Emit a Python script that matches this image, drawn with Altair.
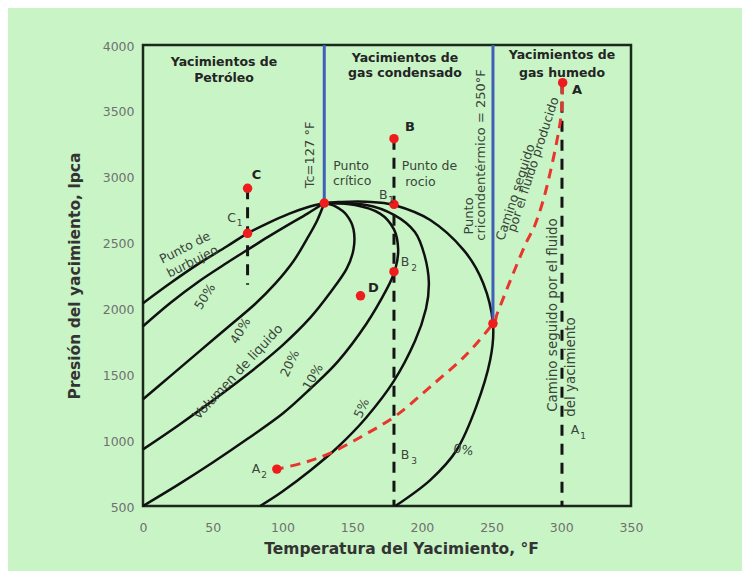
import altair as alt
import pandas as pd

BG = "#c9f5c6"

# ---------------- axis ticks ----------------
x_ticks = [0, 50, 100, 150, 200, 250, 300, 350]
y_ticks = [500, 1000, 1500, 2000, 2500, 3000, 3500, 4000]

# ---------------- envelope / quality lines (T °F, P lpca) ----------------
bubble_T = [0, 20, 40, 60, 75, 90, 105, 118, 130]
bubble_P = [2040, 2195, 2340, 2470, 2570, 2650, 2720, 2768, 2800]

l50_T = [0, 20, 40, 60, 75, 90, 105, 118, 130]
l50_P = [1865, 2045, 2205, 2345, 2445, 2545, 2640, 2720, 2800]

l40_T = [0, 20, 40, 60, 80, 95, 108, 118, 125, 130]
l40_P = [1310, 1490, 1670, 1850, 2030, 2190, 2360, 2535, 2670, 2800]

l20_T = [0, 25, 50, 75, 100, 120, 135, 146, 151, 151, 146, 138, 130]
l20_P = [930, 1110, 1300, 1500, 1720, 1930, 2130, 2300, 2450, 2600, 2710, 2775, 2800]

l10_T = [0, 25, 50, 75, 100, 120, 140, 160, 175, 181, 183, 180, 170, 152, 130]
l10_P = [500, 660, 830, 1010, 1200, 1390, 1600, 1880, 2150, 2300, 2450, 2600, 2720, 2785, 2800]

l5_T = [84, 100, 120, 140, 160, 180, 195, 203, 205, 202, 195, 180, 160, 130]
l5_P = [500, 610, 770, 950, 1170, 1450, 1750, 2000, 2200, 2400, 2580, 2710, 2785, 2800]

dew_T = [181, 206, 225, 239, 249, 251, 244, 230, 206, 180, 160, 140, 130]
dew_P = [500, 697, 925, 1254, 1608, 1887, 2191, 2443, 2671, 2785, 2810, 2808, 2800]

curve_names = ["100%", "50%", "40%", "20%", "10%", "5%", "0%"]
curve_T = [bubble_T, l50_T, l40_T, l20_T, l10_T, l5_T, dew_T]
curve_P = [bubble_P, l50_P, l40_P, l20_P, l10_P, l5_P, dew_P]

# ---------------- path followed by produced fluid (red dashed) ----------------
path_T = [301, 300, 297, 292, 287, 281, 274, 263, 254, 251, 231, 206, 182, 158, 134, 115, 96]
path_P = [3700, 3480, 3280, 3030, 2820, 2630, 2480, 2200, 1960, 1885, 1640, 1405, 1190, 1035, 900, 828, 780]

# ---------------- vertical lines ----------------
blue_T = [130, 251]
blue_P1 = [2800, 1885]
blue_P2 = [4000, 4000]

dash_T = [180, 300.5, 75]
dash_P1 = [3289, 3714, 2912]
dash_P2 = [500, 500, 2180]
dash_name = ["B", "A", "C"]

# ---------------- red points ----------------
pt_name = ["A", "B", "B1", "B2", "C", "C1", "D", "Pc", "Cc", "A2"]
pt_T = [301, 180, 180, 180, 75, 75, 156, 130, 251, 96]
pt_P = [3714, 3289, 2790, 2279, 2912, 2570, 2096, 2800, 1885, 780]

# ---------------- annotations ----------------
bold_text = ["Yacimientos de", "Petróleo", "Yacimientos de", "gas condensado",
             "Yacimientos de", "gas humedo", "A", "B", "C", "D"]
bold_T = [58.1, 58.1, 187.9, 187.9, 300.5, 300.5, 311.3, 191.5, 81.5, 165.2]
bold_P = [3873, 3747, 3899, 3785, 3924, 3787, 3658, 3375, 3013, 2153]
bold_size = [12.5, 12.5, 12.5, 12.5, 12.5, 12.5, 13, 13, 13, 13]

norm_text = ["Punto", "crítico", "Punto de", "rocio",
             "B", "1", "C", "1", "B", "2", "B", "3", "A", "1", "A", "2",
             "Tc=127 °F", "Punto", "cricondentérmico = 250°F",
             "Camino seguido", "por el fluido producido",
             "Camino seguido por el fluido", "del yacimiento",
             "Punto de", "burbujeo", "50%", "40%", "Volumen de liquido",
             "20%", "10%", "5%", "0%"]
norm_T = [149.2, 150.0, 205.5, 199.0,
          172.3, 177.9, 63.6, 69.2, 187.9, 194.4, 187.9, 194.4, 309.8, 315.6, 81.0, 86.8,
          119.8, 233.5, 242.4,
          267.2, 279.9,
          294.4, 307.3,
          30.1, 35.4, 44.5, 70.0, 68.1,
          105.4, 122.0, 156.9, 229.7]
norm_P = [3085, 2968, 3080, 2962,
          2861, 2823, 2684, 2645, 2355, 2307, 887, 842, 1077, 1031, 779, 735,
          3165, 2702, 3165,
          2882, 3093,
          1950, 1555,
          2461, 2355, 2089, 1830, 1517,
          1583, 1480, 1242, 925]
norm_angle = [0, 0, 0, 0,
              0, 0, 0, 0, 0, 0, 0, 0, 0, 0, 0, 0,
              270, 270, 270,
              288, 288,
              270, 270,
              333, 333, 302, 300, 313,
              295, 300, 295, 10]
norm_size = [12.5, 12.5, 12.5, 12.5,
             12.5, 9, 12.5, 9, 12.5, 9, 12.5, 9, 12.5, 9, 12.5, 9,
             13, 13, 13,
             12.5, 12.5,
             13.5, 13.5,
             12.5, 12.5, 12.5, 12.5, 13,
             12.5, 12.5, 12.5, 12.5]

# ---------------- tables ----------------
rows = []
for name, Ts, Ps in zip(curve_names, curve_T, curve_P):
    for i, (t, p) in enumerate(zip(Ts, Ps)):
        rows.append({"curve": name, "T": t, "P": p, "i": i})
curves_df = pd.DataFrame(rows)
path_df = pd.DataFrame({"T": path_T, "P": path_P, "i": list(range(len(path_T)))})
blue_df = pd.DataFrame({"T": blue_T, "P": blue_P1, "P2": blue_P2})
dashB_df = pd.DataFrame({"T": dash_T, "P": dash_P1, "P2": dash_P2, "name": dash_name})
pts_df = pd.DataFrame({"name": pt_name, "T": pt_T, "P": pt_P})
bold_df = pd.DataFrame({"label": bold_text, "T": bold_T, "P": bold_P, "size": bold_size})
norm_df = pd.DataFrame({"label": norm_text, "T": norm_T, "P": norm_P,
                        "angle": norm_angle, "size": norm_size})

FONT = "DejaVu Sans"
xs = alt.Scale(domain=[0, 350], nice=False, zero=False)
ys = alt.Scale(domain=[500, 4000], nice=False, zero=False)

x_axis = alt.Axis(values=x_ticks, format="d", title="Temperatura del Yacimiento, °F",
                  grid=False, domain=False, ticks=False, tickSize=0, labelPadding=15,
                  labelFlush=False, labelOverlap=False, labelFont=FONT,
                  labelFontSize=12.5, labelColor="#707070", titleFont=FONT,
                  titleFontSize=15.5, titleFontWeight="bold", titleColor="#333333",
                  titlePadding=8, titleX=258)
y_axis = alt.Axis(values=y_ticks, format="d", title="Presión del yacimiento, lpca",
                  grid=False, domain=False, ticks=False, tickSize=0, labelPadding=9,
                  labelOffset=1, labelFlush=False, labelOverlap=False,
                  labelFont=FONT, labelFontSize=12.5, labelColor="#707070",
                  titleFont=FONT, titleFontSize=15.5, titleFontWeight="bold",
                  titleColor="#333333", titlePadding=20)


def X():
    return alt.X("T:Q", scale=xs, axis=x_axis)


def Y():
    return alt.Y("P:Q", scale=ys, axis=y_axis)


curves = alt.Chart(curves_df).mark_line(
    color="#111111", strokeWidth=2.5, interpolate="cardinal"
).encode(x=X(), y=Y(), detail="curve:N", order="i:Q")

blue = alt.Chart(blue_df).mark_rule(color="#3f5fb8", strokeWidth=3).encode(
    x=X(), y=Y(), y2="P2:Q")

dashed = alt.Chart(dashB_df).mark_rule(
    color="#151515", strokeWidth=3, strokeDash=[11, 8]
).encode(x=X(), y=Y(), y2="P2:Q")

path = alt.Chart(path_df).mark_line(
    color="#e8352e", strokeWidth=3, strokeDash=[10, 7], interpolate="cardinal"
).encode(x=X(), y=Y(), order="i:Q")

pts = alt.Chart(pts_df).mark_circle(color="#ee1c1c", opacity=1, size=90).encode(
    x=X(), y=Y())

bold_lbl = alt.Chart(bold_df).mark_text(
    font=FONT, fontWeight="bold", color="#242424", align="center", baseline="middle"
).encode(x=X(), y=Y(), text="label:N", size=alt.Size("size:Q", scale=None))

norm_lbl = alt.Chart(norm_df).mark_text(
    font=FONT, color="#3a443a", align="center", baseline="middle"
).encode(x=X(), y=Y(), text="label:N",
         angle=alt.Angle("angle:Q", scale=None),
         size=alt.Size("size:Q", scale=None))

chart = alt.layer(curves, blue, dashed, path, pts, bold_lbl, norm_lbl).properties(
    width=488, height=461, background=BG,
    padding={"left": 135, "top": 37, "right": 111, "bottom": 65},
    autosize=alt.AutoSizeParams(type="none"),
).configure_view(stroke="#1b281b", strokeWidth=2.5)

chart.save("out.html", embed_options={"renderer": "svg", "actions": False})
